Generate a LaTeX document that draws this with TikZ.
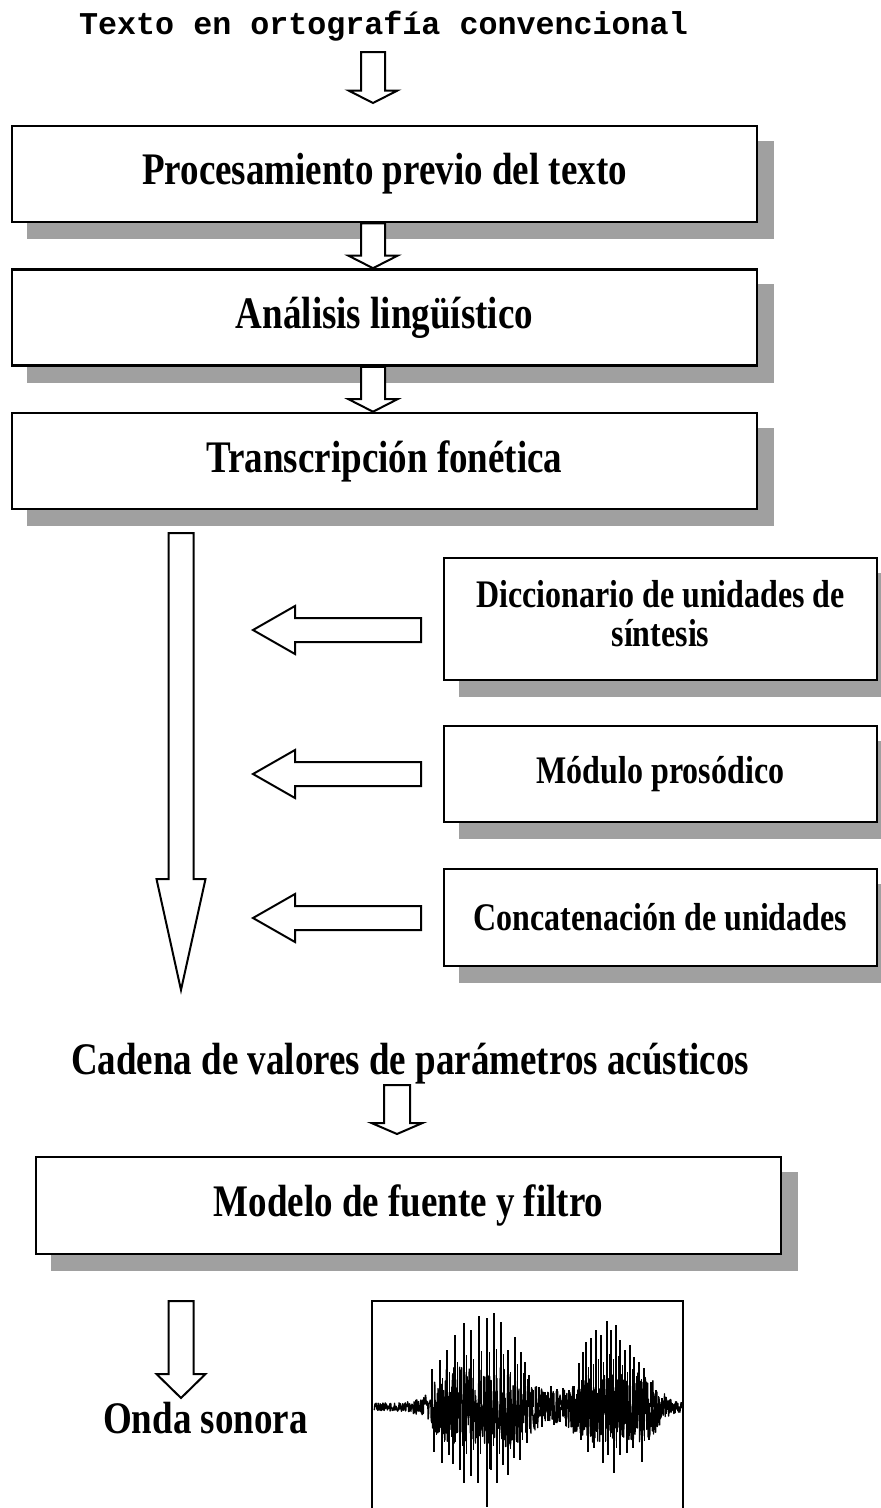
\documentclass[tikz,border=0pt]{standalone}
\usepackage{graphicx}
\usepackage{fontspec}
\setmainfont{Liberation Serif}
\newfontfamily\titlemono{Liberation Mono}
\usetikzlibrary{calc,backgrounds}
\definecolor{shadowgray}{RGB}{160,160,160}
\newcommand{\tall}[1]{\scalebox{1}[1.22]{#1}}
\tikzset{
  mainbox/.style={draw, line width=2.6pt, fill=white, minimum width=745pt, minimum height=96pt, inner sep=0pt,
    font=\bfseries\fontsize{37}{42}\selectfont},
  sidebox/.style={draw, line width=2.6pt, fill=white, minimum width=433pt, inner sep=0pt, align=center,
    font=\bfseries\fontsize{32}{37}\selectfont},
  blockarrow/.style={draw, line width=2pt, fill=white, line join=miter},
  plainlabel/.style={inner sep=0pt, font=\bfseries\fontsize{37}{42}\selectfont},
  shadowfill/.style={fill=shadowgray, draw=none},
  wavebox/.style={draw, line width=2.6pt, minimum width=311pt, minimum height=222pt, inner sep=0pt},
  waveline/.style={line width=1.3pt, line join=round},
  spikeline/.style={line width=1.8pt},
  minorspike/.style={line width=1.4pt},
}
\newcommand{\boxshadow}[1]{\fill[shadowfill] ($(#1.south west)+(16,16)$) rectangle ($(#1.north east)+(16,16)$);}
\newcommand{\downblock}[5]{%
  \draw[blockarrow] let \p1=(#1), \p2=(#2) in
  (\x1-#3pt,\y1) -- (\x1+#3pt,\y1) -- (\x1+#3pt,\y2+#5pt) -- (\x1+#4pt,\y2+#5pt) -- (\x2,\y2)
  -- (\x1-#4pt,\y2+#5pt) -- (\x1-#3pt,\y2+#5pt) -- cycle;}
\newcommand{\leftblock}[5]{%
  \draw[blockarrow] let \p1=(#1), \p2=(#2) in
  (\x1,\y1+#3pt) -- (\x2+#5pt,\y1+#3pt) -- (\x2+#5pt,\y1+#4pt) -- (\x2,\y2)
  -- (\x2+#5pt,\y1-#4pt) -- (\x2+#5pt,\y1-#3pt) -- (\x1,\y1-#3pt) -- cycle;}
\begin{document}
\begin{tikzpicture}[x=1pt, y=-1pt,
  declare function={core(\x)=4+36/(1+min(abs((\x-480)/48),3)^8)+32/(1+min(abs((\x-618)/42),3)^8)+10*(\x>530)*(\x<577);}]
\useasboundingbox (0,0) rectangle (881,1508);
\clip (0,0) rectangle (881,1508);

% title
\node[anchor=base, inner sep=0pt, font=\titlemono\bfseries\fontsize{31.7}{36}\selectfont] (title) at (383.5,34) {Texto en ortografía convencional};

% main boxes
\node[mainbox] (b1) at (384.5,174) {\raisebox{-7pt}{\tall{Procesamiento previo del texto}}};
\node[mainbox] (b2) at (384.5,317.5) {\tall{Análisis lingüístico}};
\node[mainbox] (b3) at (384.5,461) {\tall{Transcripción fonética}};

% side boxes
\node[sidebox, minimum height=122pt] (dicc) at (660.5,619) {\tall{\fontsize{32}{31}\selectfont\begin{tabular}{@{}c@{}}Diccionario de unidades de\\síntesis\end{tabular}}};
\node[sidebox, minimum height=96pt] (modp) at (660.5,774) {\tall{Módulo prosódico}};
\node[sidebox, minimum height=97pt] (conc) at (660.5,917.5) {\tall{Concatenación de unidades}};

% lower part
\node[plainlabel, anchor=base] (cadena) at (410,1074) {\tall{Cadena de valores de parámetros acústicos}};
\node[mainbox, minimum height=97pt] (modelo) at (408.5,1205.5) {\tall{Modelo de fuente y filtro}};
\node[plainlabel, anchor=base] (onda) at (205.5,1433) {\tall{Onda sonora}};
\node[wavebox] (wave) at (527.5,1412) {};

% shadows
\begin{pgfonlayer}{background}
  \clip (0,0) rectangle (881,1508);
  \boxshadow{b1}\boxshadow{b2}\boxshadow{b3}
  \boxshadow{dicc}\boxshadow{modp}\boxshadow{conc}
  \boxshadow{modelo}
\end{pgfonlayer}

% arrow end points
\coordinate (a1s) at (373,52);
\coordinate (a1e) at (373,103);
\coordinate (a2s) at (b1.south -| a1s);
\coordinate (a2e) at (b2.north -| a1s);
\coordinate (a3s) at (b2.south -| a1s);
\coordinate (a3e) at (b3.north -| a1s);
\coordinate (bigs) at (181,533);
\coordinate (bige) at (181,990);
\coordinate (ds) at (421,630);
\coordinate (de) at (253,630);
\coordinate (ms) at (421,774);
\coordinate (me) at (253,774);
\coordinate (cs) at (421,918);
\coordinate (ce) at (253,918);
\coordinate (ps) at (397,1085);
\coordinate (pe) at (397,1134);
\coordinate (os) at (181,1301);
\coordinate (oe) at (181,1398);

\downblock{a1s}{a1e}{12}{24.5}{12.5}
\downblock{a2s}{a2e}{12}{24.5}{12.5}
\downblock{a3s}{a3e}{12}{24.5}{12.5}
\downblock{bigs}{bige}{12.5}{24.5}{111}
\leftblock{ds}{de}{12}{24}{42}
\leftblock{ms}{me}{12}{24}{42}
\leftblock{cs}{ce}{12}{24}{42}
\downblock{ps}{pe}{13}{25.5}{11}
\downblock{os}{oe}{12.5}{24.5}{24}

% waveform
\pgfmathsetseed{3}
\draw[waveline] plot[domain=374:682, samples=900, variable=\t] (\t,{1407+core(\t)*rand});
\foreach \sx/\sy in {432/1369,440/1360,447/1350,455/1335,464/1323,471/1330,479/1316,487/1318,494/1313,501/1322,508/1350,515/1337,521/1352,525/1362,529/1375,
  434/1452,442/1463,449/1455,453/1464,460/1470,464/1483,471/1476,478/1483,487/1507,491/1470,497/1483,503/1465,508/1475,514/1458,520/1460,527/1443,
  533/1390,539/1387,545/1392,551/1386,557/1389,563/1388,569/1390,574/1386,
  536/1424,542/1427,548/1421,554/1425,560/1422,566/1426,572/1420,
  579/1363,583/1352,586/1342,591/1338,596/1330,601/1335,607/1321,611/1330,616/1325,620/1340,625/1350,630/1345,634/1357,639/1362,644/1368,651/1382,656/1390,
  581/1440,588/1452,594/1448,603/1463,608/1455,614/1473,620/1455,627/1453,633/1448,642/1462,649/1440,655/1430,
  662/1398,666/1414,670/1400,675/1413}
  {\draw[spikeline] (\sx,1407) -- (\sx,\sy);
   \draw[minorspike] (\sx+2.6,1407) -- (\sx+2.6,{1407+0.62*(\sy-1407)});}
\end{tikzpicture}
\end{document}
